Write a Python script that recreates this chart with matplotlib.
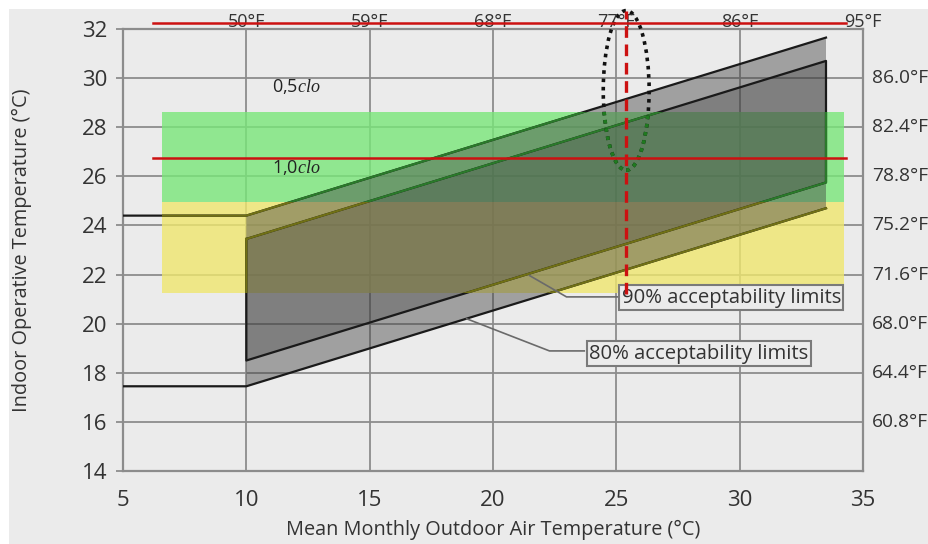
import matplotlib
matplotlib.use('Agg')
import matplotlib.pyplot as plt
from matplotlib.patches import Rectangle, Polygon, Ellipse

# ---------------- data ----------------
x_ticks = [5, 10, 15, 20, 25, 30, 35]
y_ticks = [14, 16, 18, 20, 22, 24, 26, 28, 30, 32]
top_f_pos = [10, 15, 20, 25, 30, 35]
top_f_labels = ['50°F', '59°F', '68°F', '77°F', '86°F', '95°F']
right_f_pos = [16, 18, 20, 22, 24, 26, 28, 30]
right_f_labels = ['60.8°F', '64.4°F', '68.0°F', '71.6°F', '75.2°F', '78.8°F', '82.4°F', '86.0°F']

limit_x = [10, 33.5]
upper80 = [24.4, 31.65]
lower80 = [17.45, 24.7]
upper90 = [23.45, 30.7]
lower90 = [18.5, 25.75]
ext_x = [5, 10]

zone_x = [6.6, 34.25]
green_y = [24.95, 28.6]
yellow_y = [21.25, 24.95]

red_h_x = [6.2, 34.3]
red_top_y = 32.25
red_mid_y = 26.75
red_v_x = 25.4
red_v_y = [21.2, 32.75]
ell_center = (25.4, 29.5)
ell_w, ell_h = 1.86, 6.5

clo_labels = ['0,5$\\mathit{clo}$', '1,0$\\mathit{clo}$']
clo_x = [11.05, 11.05]
clo_y = [29.64, 26.38]

lab90 = '90% acceptability limits'
lab90_pos = (29.66, 21.05)
lead90_x = [25.04, 22.98, 21.48]
lead90_y = [21.09, 21.09, 21.96]
lab80 = '80% acceptability limits'
lab80_pos = (28.34, 18.77)
lead80_x = [23.7, 22.29, 18.93]
lead80_y = [18.89, 18.89, 20.2]

# ---------------- style ----------------
SANS = ['Open Sans', 'DejaVu Sans']
plt.rcParams['font.family'] = SANS
plt.rcParams['mathtext.fontset'] = 'custom'
plt.rcParams['mathtext.rm'] = 'Liberation Serif'
plt.rcParams['mathtext.it'] = 'Liberation Serif:italic'
BG = '#ebebeb'
GRID = '#8c8c8c'
TXT = '#333333'

W, H = 929, 544
fig = plt.figure(figsize=(W / 100, H / 100), dpi=100)
fig.patch.set_facecolor('white')
fig.patches.append(Rectangle((9 / W, 0), 1, 1 - 9 / H, transform=fig.transFigure,
                             facecolor=BG, edgecolor='none', zorder=-10))
ax = fig.add_axes([123 / W, (H - 471) / H, (863 - 123) / W, (471 - 29) / H])
ax.set_facecolor(BG)
ax.set_xlim(5, 35)
ax.set_ylim(14, 32)
ax.set_xticks(x_ticks)
ax.set_yticks(y_ticks)
ax.tick_params(axis='x', length=0, pad=14, labelsize=16, labelcolor=TXT)
ax.tick_params(axis='y', length=5, width=1.3, color=GRID, pad=6, labelsize=16, labelcolor=TXT)
ax.grid(True, color=GRID, lw=1.3, zorder=0.5)
ax.set_axisbelow(True)
for s in ax.spines.values():
    s.set_color(GRID)
    s.set_linewidth(1.6)
    s.set_zorder(0.6)

ax.set_xlabel('Mean Monthly Outdoor Air Temperature (°C)', fontsize=14.3, color=TXT, labelpad=6)
ax.set_ylabel('Indoor Operative Temperature (°C)', fontsize=14.3, color=TXT, labelpad=36)

# comfort zones (green / yellow)
green = Rectangle((zone_x[0], green_y[0]), zone_x[1] - zone_x[0], green_y[1] - green_y[0],
                  facecolor='#79e779', alpha=0.8, edgecolor='none', zorder=1)
yellow = Rectangle((zone_x[0], yellow_y[0]), zone_x[1] - zone_x[0], yellow_y[1] - yellow_y[0],
                   facecolor='#efe76e', alpha=0.8, edgecolor='none', zorder=1)
ax.add_patch(green)
ax.add_patch(yellow)

# acceptability bands
band80 = Polygon(list(zip(limit_x, upper80)) + list(zip(limit_x[::-1], lower80[::-1])),
                 closed=True, facecolor='#404040', alpha=0.44, edgecolor='none', zorder=2)
band90 = Polygon(list(zip(limit_x, upper90)) + list(zip(limit_x[::-1], lower90[::-1])),
                 closed=True, facecolor='#404040', alpha=0.34, edgecolor='none', zorder=2.1)
ax.add_patch(band80)
ax.add_patch(band90)

up80_x = ext_x + limit_x[1:]
up80_y = [upper80[0]] * 2 + upper80[1:]
lo80_y = [lower80[0]] * 2 + lower80[1:]
b90_x = limit_x + limit_x[::-1] + limit_x[:1]
b90_y = upper90 + lower90[::-1] + upper90[:1]

def draw_limits(color, clip=None, z=3):
    lines = []
    lines += ax.plot(up80_x, up80_y, color=color, lw=1.6, zorder=z)
    lines += ax.plot(up80_x, lo80_y, color=color, lw=1.6, zorder=z)
    lines += ax.plot(b90_x, b90_y, color=color, lw=1.6, zorder=z)
    if clip is not None:
        for ln in lines:
            ln.set_clip_path(clip)

draw_limits('#1a1a1a')
draw_limits('#2a7a2a', clip=green, z=3.1)
draw_limits('#707015', clip=yellow, z=3.1)

# dotted ellipse
e1 = Ellipse(ell_center, ell_w, ell_h, fill=False, edgecolor='#111111', lw=2.6,
             linestyle=(0, (1, 1.3)), zorder=4, clip_on=False)
ax.add_patch(e1)
e2 = Ellipse(ell_center, ell_w, ell_h, fill=False, edgecolor='#1f7a1f', lw=2.6,
             linestyle=(0, (1, 1.3)), zorder=4.1)
ax.add_patch(e2)
e2.set_clip_path(green)

# red lines
ax.plot(red_h_x, [red_top_y] * 2, color='#cc1111', lw=1.8, zorder=5, clip_on=False)
ax.plot(red_h_x, [red_mid_y] * 2, color='#cc1111', lw=1.8, zorder=5)
ax.plot([red_v_x] * 2, red_v_y, color='#cc1111', lw=2.4, linestyle=(0, (3.5, 2)),
        zorder=6, clip_on=False)

# clo labels
for t, xx, yy in zip(clo_labels, clo_x, clo_y):
    ax.text(xx, yy, t, fontsize=13, color='#222222', va='center', ha='left', zorder=5)

# acceptability labels
ax.plot(lead90_x, lead90_y, color='#6a6a6a', lw=1.2, zorder=4.5)
ax.plot(lead80_x, lead80_y, color='#6a6a6a', lw=1.2, zorder=4.5)
box = dict(boxstyle='square,pad=0.12', facecolor=BG, edgecolor='#7a7a7a', lw=1.5)
ax.text(*lab90_pos, lab90, fontsize=14.6, color=TXT, ha='center', va='center', bbox=box, zorder=5.5)
ax.text(*lab80_pos, lab80, fontsize=14.6, color=TXT, ha='center', va='center', bbox=box, zorder=5.5)

# top Fahrenheit labels
for xx, t in zip(top_f_pos, top_f_labels):
    ax.annotate(t, xy=(xx, 32), xycoords='data', xytext=(0, 1.5), textcoords='offset points',
                ha='center', va='baseline', fontsize=13, color=TXT, annotation_clip=False, zorder=4)

# right Fahrenheit labels
for yy, t in zip(right_f_pos, right_f_labels):
    ax.annotate(t, xy=(35, yy), xycoords='data', xytext=(6.5, 0), textcoords='offset points',
                ha='left', va='center', fontsize=13.8, color=TXT, annotation_clip=False)

fig.savefig('out.png', dpi=100, facecolor=fig.get_facecolor())
